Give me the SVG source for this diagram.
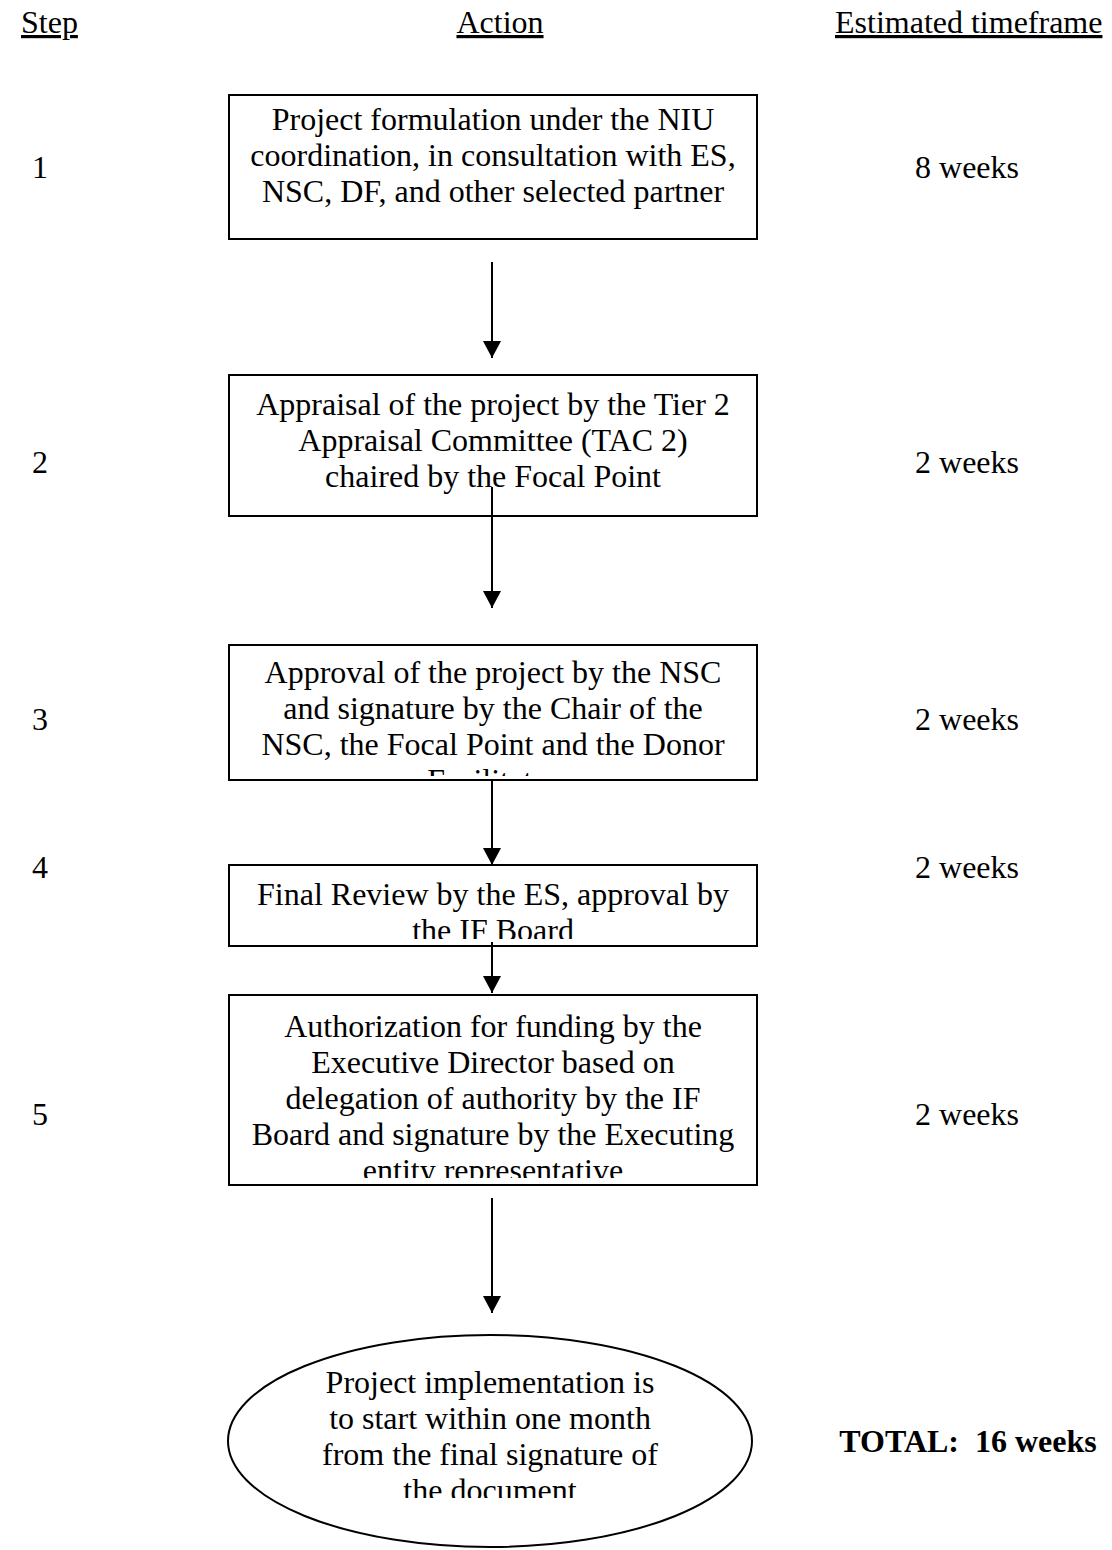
<svg xmlns="http://www.w3.org/2000/svg" width="1112" height="1550" viewBox="0 0 1112 1550">
  <style>
    text { font-family: "Liberation Serif", "Times New Roman", serif; font-size: 32px; fill: #000; }
    .c { text-anchor: middle; }
    .hdr { text-decoration: underline; }
    .b { font-weight: bold; white-space: pre; }
    .box { fill: #fff; stroke: #000; stroke-width: 2; }
    .link { stroke: #000; stroke-width: 2; fill: none; marker-end: url(#head); }
  </style>
  <defs>
    <!-- solid triangular arrowhead, tip at the end of the line -->
    <marker id="head" markerUnits="userSpaceOnUse" markerWidth="17" markerHeight="18" viewBox="0 0 17 18" refX="17" refY="9" orient="auto">
      <path d="M0,0 L17,9 L0,18 Z" fill="#000"/>
    </marker>
    <clipPath id="clip3"><rect x="229" y="645" width="528" height="131"/></clipPath>
    <clipPath id="clip4"><rect x="229" y="865" width="528" height="74"/></clipPath>
    <clipPath id="clip5"><rect x="229" y="995" width="528" height="183"/></clipPath>
    <clipPath id="clipE"><rect x="228" y="1335" width="524" height="163"/></clipPath>
  </defs>

  <!-- column headings -->
  <g id="headings">
    <text class="hdr" x="21" y="33">Step</text>
    <text class="hdr c" x="500" y="33">Action</text>
    <text class="hdr" x="835" y="33">Estimated timeframe</text>
  </g>

  <!-- step numbers -->
  <g id="steps">
    <text class="c" x="40" y="178">1</text>
    <text class="c" x="40" y="473">2</text>
    <text class="c" x="40" y="730">3</text>
    <text class="c" x="40" y="878">4</text>
    <text class="c" x="40" y="1125">5</text>
  </g>

  <!-- timeframes -->
  <g id="timeframes">
    <text class="c" x="967" y="178">8 weeks</text>
    <text class="c" x="967" y="473">2 weeks</text>
    <text class="c" x="967" y="730">2 weeks</text>
    <text class="c" x="967" y="878">2 weeks</text>
    <text class="c" x="967" y="1125">2 weeks</text>
    <text class="c b" x="968" y="1452">TOTAL:  16 weeks</text>
  </g>

  <g id="node1">
    <rect class="box" x="229" y="95" width="528" height="144"/>
    <text class="c" x="493" y="130">Project formulation under the NIU</text>
    <text class="c" x="493" y="166">coordination, in consultation with ES,</text>
    <text class="c" x="493" y="202">NSC, DF, and other selected partner</text>
  </g>

  <g id="node2">
    <rect class="box" x="229" y="375" width="528" height="141"/>
    <text class="c" x="493" y="415">Appraisal of the project by the Tier 2</text>
    <text class="c" x="493" y="451">Appraisal Committee (TAC 2)</text>
    <text class="c" x="493" y="487">chaired by the Focal Point</text>
  </g>

  <g id="node3">
    <rect class="box" x="229" y="645" width="528" height="135"/>
    <g clip-path="url(#clip3)">
      <text class="c" x="493" y="683">Approval of the project by the NSC</text>
      <text class="c" x="493" y="719">and signature by the Chair of the</text>
      <text class="c" x="493" y="755">NSC, the Focal Point and the Donor</text>
      <text class="c" x="493" y="791">Facilitator</text>
    </g>
  </g>

  <g id="node4">
    <rect class="box" x="229" y="865" width="528" height="81"/>
    <g clip-path="url(#clip4)">
      <text class="c" x="493" y="905">Final Review by the ES, approval by</text>
      <text class="c" x="493" y="941">the IF Board</text>
    </g>
  </g>

  <g id="node5">
    <rect class="box" x="229" y="995" width="528" height="190"/>
    <g clip-path="url(#clip5)">
      <text class="c" x="493" y="1037">Authorization for funding by the</text>
      <text class="c" x="493" y="1073">Executive Director based on</text>
      <text class="c" x="493" y="1109">delegation of authority by the IF</text>
      <text class="c" x="493" y="1145">Board and signature by the Executing</text>
      <text class="c" x="493" y="1181">entity representative</text>
    </g>
  </g>

  <g id="node6">
    <ellipse class="box" cx="490" cy="1441" rx="262" ry="106"/>
    <g clip-path="url(#clipE)">
      <text class="c" x="490" y="1393">Project implementation is</text>
      <text class="c" x="490" y="1429">to start within one month</text>
      <text class="c" x="490" y="1465">from the final signature of</text>
      <text class="c" x="490" y="1501">the document</text>
    </g>
  </g>

  <!-- connectors -->
  <g id="connectors">
    <line class="link" x1="492" y1="262" x2="492" y2="358"/>
    <line class="link" x1="492" y1="487" x2="492" y2="608"/>
    <line class="link" x1="492" y1="780" x2="492" y2="865"/>
    <line class="link" x1="492" y1="942" x2="492" y2="993"/>
    <line class="link" x1="492" y1="1198" x2="492" y2="1313"/>
  </g>
</svg>
